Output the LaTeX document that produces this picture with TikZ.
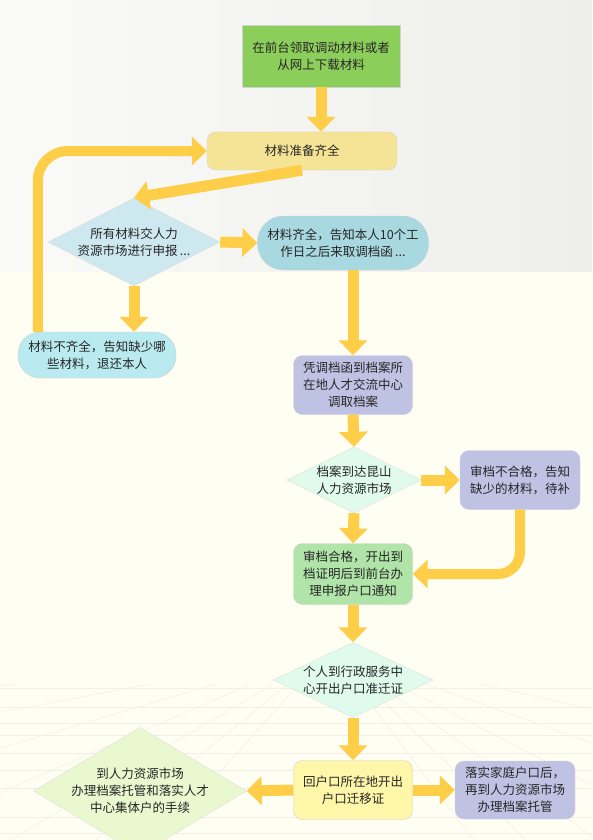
\documentclass[tikz,border=0pt]{standalone}
\usepackage{fontspec}
\setmainfont{Noto Sans CJK SC}
\usetikzlibrary{arrows.meta, positioning, calc, shapes.geometric}
\definecolor{fcGreen}{RGB}{140,206,90}
\definecolor{fcSand}{RGB}{246,228,150}
\definecolor{fcIce}{RGB}{206,232,240}
\definecolor{fcTeal}{RGB}{168,216,224}
\definecolor{fcAqua}{RGB}{184,234,240}
\definecolor{fcLilac}{RGB}{192,194,228}
\definecolor{fcMint}{RGB}{224,250,236}
\definecolor{fcLeaf}{RGB}{176,228,168}
\definecolor{fcLemon}{RGB}{254,246,168}
\definecolor{fcLime}{RGB}{234,248,208}
\definecolor{fcArrow}{RGB}{255,206,72}
\definecolor{bgTopL}{RGB}{250,250,248}
\definecolor{bgTopR}{RGB}{238,238,235}
\definecolor{bgCream}{RGB}{254,254,242}
\definecolor{bgGrid}{RGB}{240,240,230}

\begin{document}
\begin{tikzpicture}[x=1pt,y=-1pt,
  font=\fontsize{12.5}{17}\selectfont,
  box/.style={draw=black!18,rounded corners=9pt,align=center,
              inner sep=2pt,text=black!85},
  dia/.style={diamond,draw=black!12,align=center,inner sep=-14pt,
              text=black!85},
  flow/.style={draw=fcArrow,line width=11pt,
               -{Triangle[width=28pt,length=15pt]}},
  loopback/.style={flow,line width=10pt,rounded corners=30pt}]

% ===== background =====
\useasboundingbox (0,0) rectangle (592,840);
\shade[left color=bgTopL,right color=bgTopR] (0,0) rectangle (592,272);
\fill[bgCream] (0,272) rectangle (592,840);
\begin{scope}
  \clip (0,684) rectangle (592,840);
  \foreach \y in {688,707,723,735,753,770,788,817,833}
    \draw[bgGrid,line width=0.7pt] (0,\y) -- (592,\y);
  \foreach \y in {690,720,760,810,870,950,1060}{
    \draw[bgGrid,line width=0.5pt] (330,650) -- (-40,\y);
    \draw[bgGrid,line width=0.5pt] (330,650) -- (640,\y);
  }
\end{scope}

% ===== upper part: materials =====
\node[box,rounded corners=0pt,fill=fcGreen,minimum width=158pt,minimum height=62pt]
  (get) at (321,56) {在前台领取调动材料或者\\从网上下载材料};
\node[box,fill=fcSand,minimum width=190pt,minimum height=38pt]
  (prep) at (302,151) {材料准备齐全};
\node[dia,fill=fcIce,minimum width=172pt,minimum height=88pt]
  (submit) at (134,242) {所有材料交人力\\资源市场进行申报\,...};
\node[box,rounded corners=26pt,fill=fcTeal,minimum width=171pt,minimum height=54pt]
  (notify) at (343,243) {材料齐全，告知本人10个工\\作日之后来取调档函\,...};
\node[box,rounded corners=22pt,fill=fcAqua,minimum width=158pt,minimum height=46pt]
  (lack) at (97,355) {材料不齐全，告知缺少哪\\些材料，退还本人};

% ===== middle part: archive =====
\node[box,fill=fcLilac,minimum width=119pt,minimum height=59pt]
  (fetch) at (353,385) {凭调档函到档案所\\在地人才交流中心\\调取档案};
\node[dia,fill=fcMint,minimum width=134pt,minimum height=66pt]
  (arrive) at (354,480) {档案到达昆山\\人力资源市场};
\node[box,fill=fcLilac,minimum width=120pt,minimum height=59pt]
  (fail) at (520,480) {审档不合格，告知\\缺少的材料，待补};
\node[box,fill=fcLeaf,minimum width=119pt,minimum height=61pt]
  (pass) at (353,574) {审档合格，开出到\\档证明后到前台办\\理申报户口通知};

% ===== lower part: household =====
\node[dia,fill=fcMint,minimum width=160pt,minimum height=75pt]
  (permit) at (353,680) {个人到行政服务中\\心开出户口准迁证};
\node[box,fill=fcLemon,minimum width=119pt,minimum height=59pt]
  (back) at (353,790) {回户口所在地开出\\户口迁移证};
\node[dia,fill=fcLime,minimum width=213pt,minimum height=92pt]
  (talent) at (140,791) {到人力资源市场\\办理档案托管和落实人才\\中心集体户的手续};
\node[box,fill=fcLilac,minimum width=120pt,minimum height=58pt]
  (family) at (515,790) {落实家庭户口后，\\再到人力资源市场\\办理档案托管};

% ===== arrows =====
\draw[flow] (get.south) -- (get.south |- prep.north);
\draw[flow] (prep.south) -- (submit.north);
\draw[flow] (submit.east) -- (notify.west);
\draw[flow] (submit.south) -- (submit.south |- lack.north);
\draw[loopback] ($(lack.north west)+(20,0)$) |- (prep.west);
\draw[flow] (fetch.north |- notify.south) -- (fetch.north);
\draw[flow] (fetch.south) -- (arrive.north);
\draw[flow] (arrive.east) -- (fail.west);
\draw[flow] (arrive.south) -- (pass.north);
\draw[loopback,rounded corners=22pt] (fail.south) |- (pass.east);
\draw[flow] (pass.south) -- (permit.north);
\draw[flow] (permit.south) -- (back.north);
\draw[flow] (back.west) -- (talent.east);
\draw[flow] (back.east) -- (family.west);
\end{tikzpicture}
\end{document}
